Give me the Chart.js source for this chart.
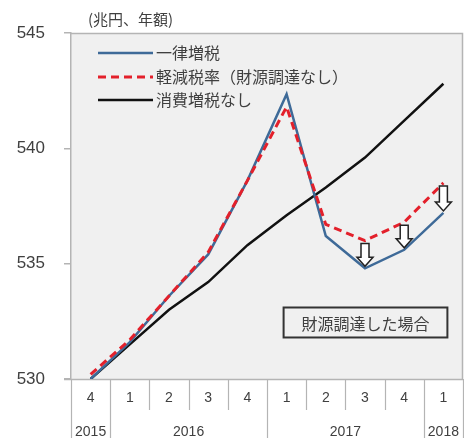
<!DOCTYPE html>
<html>
<head>
<meta charset="utf-8">
<script src="https://cdn.jsdelivr.net/npm/chart.js@4"></script>
<style>
html,body{margin:0;padding:0;background:#fff;}
canvas{display:block;}
</style>
</head>
<body>
<canvas id="c" width="464" height="438"></canvas>
<script>
const quarters = ['4','1','2','3','4','1','2','3','4','1'];
const years = [
  {label:'2015', from:0, to:0},
  {label:'2016', from:1, to:4},
  {label:'2017', from:5, to:8},
  {label:'2018', from:9, to:9}
];
const uniformTax = [530.0, 531.6, 533.6, 535.4, 538.6, 542.35, 536.2, 534.8, 535.6, 537.2];
const reducedRate = [530.2, 531.7, 533.6, 535.5, 538.6, 541.8, 536.7, 536.0, 536.8, 538.5];
const noTaxHike = [530.0, 531.5, 533.0, 534.2, 535.8, 537.1, 538.3, 539.6, 541.2, 542.8];
const seriesNames = ['一律増税', '軽減税率（財源調達なし）', '消費増税なし'];
const yTicks = [530, 535, 540, 545];
const unitLabel = '(兆円、年額)';
const boxLabel = '財源調達した場合';
const arrowIdx = [7, 8, 9];

const JP = '"Noto Sans CJK JP", "Noto Sans", sans-serif';
const NUM = '"Liberation Sans", Arial, sans-serif';
const GRID = '#b4b4b4';

const decor = {
  id: 'decor',
  beforeDraw(chart) {
    const {ctx, chartArea: a} = chart;
    ctx.save();
    ctx.fillStyle = '#f0f0f0';
    ctx.fillRect(a.left, a.top, a.right - a.left, a.bottom - a.top);
    ctx.restore();
  },
  beforeDatasetsDraw(chart) {
    const {ctx, chartArea: a} = chart;
    ctx.save();
    ctx.strokeStyle = GRID;
    ctx.lineWidth = 1.5;
    ctx.beginPath();
    ctx.moveTo(a.left, a.top + 0.5); ctx.lineTo(a.right - 0.5, a.top + 0.5);
    ctx.lineTo(a.right - 0.5, a.bottom);
    ctx.stroke();
    // bottom axis line
    ctx.beginPath();
    ctx.moveTo(a.left - 7, a.bottom + 0.5); ctx.lineTo(a.right, a.bottom + 0.5);
    ctx.stroke();
    // x separators
    const xs = chart.scales.x;
    const w = xs.getPixelForValue(1) - xs.getPixelForValue(0);
    const yearBounds = new Set();
    years.forEach(y => { yearBounds.add(y.from); yearBounds.add(y.to + 1); });
    ctx.lineWidth = 1.2;
    for (let i = 0; i <= quarters.length; i++) {
      const x = Math.round(xs.getPixelForValue(0) - w / 2 + i * w) + 0.5;
      const yEnd = yearBounds.has(i) ? chart.height : a.bottom + 31;
      ctx.beginPath();
      ctx.moveTo(x, a.bottom); ctx.lineTo(x, yEnd);
      ctx.stroke();
    }
    // year labels
    ctx.fillStyle = '#404040';
    ctx.font = '14px ' + NUM;
    ctx.textAlign = 'center';
    ctx.textBaseline = 'middle';
    years.forEach(y => {
      const x = (xs.getPixelForValue(y.from) + xs.getPixelForValue(y.to)) / 2;
      ctx.fillText(y.label, x, a.bottom + 53);
    });
    ctx.restore();
  },
  afterDatasetsDraw(chart) {
    const {ctx, chartArea: a} = chart;
    const xs = chart.scales.x, ys = chart.scales.y;
    ctx.save();
    // arrows
    arrowIdx.forEach(i => {
      const x = xs.getPixelForValue(i);
      const top = ys.getPixelForValue(reducedRate[i]) + 3;
      const bot = ys.getPixelForValue(uniformTax[i]) - 2;
      const sw = 4, hw = 8, hh = 9;
      ctx.beginPath();
      ctx.moveTo(x - sw, top);
      ctx.lineTo(x + sw, top);
      ctx.lineTo(x + sw, bot - hh);
      ctx.lineTo(x + hw, bot - hh);
      ctx.lineTo(x, bot);
      ctx.lineTo(x - hw, bot - hh);
      ctx.lineTo(x - sw, bot - hh);
      ctx.closePath();
      ctx.fillStyle = '#ffffff';
      ctx.fill();
      ctx.strokeStyle = '#222';
      ctx.lineWidth = 1.5;
      ctx.stroke();
    });
    // annotation box
    const bx1 = xs.getPixelForValue(5) - 3, bx2 = xs.getPixelForValue(9) + 4;
    const by1 = ys.getPixelForValue(533.1), by2 = ys.getPixelForValue(531.8);
    ctx.strokeStyle = '#333';
    ctx.lineWidth = 2;
    ctx.strokeRect(bx1, by1, bx2 - bx1, by2 - by1);
    ctx.fillStyle = '#404040';
    ctx.font = '16px ' + JP;
    ctx.textAlign = 'center';
    ctx.textBaseline = 'middle';
    ctx.fillText(boxLabel, (bx1 + bx2) / 2, (by1 + by2) / 2 + 1);
    // legend
    const ds = chart.data.datasets;
    const lx1 = a.left + 27, lx2 = a.left + 82;
    const rows = [53, 77, 100];
    ds.forEach((d, k) => {
      ctx.beginPath();
      ctx.strokeStyle = d.borderColor;
      ctx.lineWidth = d.borderWidth;
      ctx.setLineDash(d.borderDash || []);
      ctx.moveTo(lx1, rows[k]); ctx.lineTo(lx2, rows[k]);
      ctx.stroke();
      ctx.setLineDash([]);
      ctx.fillStyle = '#404040';
      ctx.font = '16px ' + JP;
      ctx.textAlign = 'left';
      ctx.textBaseline = 'middle';
      ctx.fillText(d.label, lx2 + 3, rows[k]);
    });
    // unit label
    ctx.font = '15px ' + JP;
    ctx.fillStyle = '#404040';
    ctx.fillText(unitLabel, 88, 19);
    ctx.restore();
  }
};

new Chart(document.getElementById('c'), {
  type: 'line',
  data: {
    labels: quarters,
    datasets: [
      {label: seriesNames[0], data: uniformTax, borderColor: '#3e6a98', borderWidth: 2.5, order: 1},
      {label: seriesNames[1], data: reducedRate, borderColor: '#e3202b', borderWidth: 3, borderDash: [8, 5], order: 0},
      {label: seriesNames[2], data: noTaxHike, borderColor: '#111111', borderWidth: 2.5, order: 2}
    ]
  },
  options: {
    responsive: false,
    animation: false,
    devicePixelRatio: 1,
    layout: {padding: {top: 33, right: 1, left: 0, bottom: 0}},
    elements: {point: {radius: 0}, line: {tension: 0, fill: false}},
    plugins: {legend: {display: false}, tooltip: {enabled: false}, title: {display: false}},
    scales: {
      x: {
        offset: true,
        grid: {display: false, drawTicks: false},
        border: {display: false},
        ticks: {color: '#404040', font: {size: 14, family: NUM}, padding: 11, maxRotation: 0, autoSkip: false},
        afterFit(s) { s.height = 59; }
      },
      y: {
        min: 530, max: 545,
        afterBuildTicks(s) { s.ticks = yTicks.map(v => ({value: v})); },
        grid: {drawOnChartArea: false, tickLength: 7, color: GRID, lineWidth: 1.5},
        border: {display: true, color: GRID, width: 1.5},
        ticks: {color: '#404040', font: {size: 17, family: NUM}, padding: 19},
        afterFit(s) { s.width = 71; }
      }
    }
  },
  plugins: [decor]
});
</script>
</body>
</html>
